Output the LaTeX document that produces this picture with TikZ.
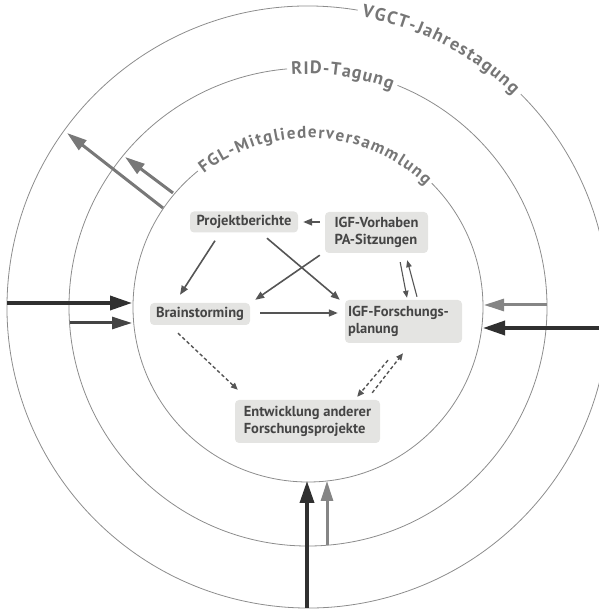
\documentclass[tikz,border=0pt]{standalone}
\usepackage{fontspec}
\setsansfont{PT Sans}
\newfontfamily\boxfontfam{PT Sans}
\usetikzlibrary{arrows.meta,decorations.text}
\definecolor{ringline}{HTML}{8C8C8C}
\definecolor{labeltext}{HTML}{767676}
\definecolor{boxfill}{HTML}{E4E4E2}
\definecolor{boxtext}{HTML}{454545}
\definecolor{flowcol}{HTML}{555555}
\definecolor{darkarrow}{HTML}{303030}
\definecolor{midarrow}{HTML}{444444}
\definecolor{grayarrow}{HTML}{858585}
\newcommand\ringfont{\sffamily\bfseries\fontsize{18}{21}\selectfont}
\newcommand\ringfontsmall{\sffamily\bfseries\fontsize{17}{20}\selectfont}
\begin{document}
\begin{tikzpicture}[x=1pt,y=1pt,
  ring/.style={draw=ringline, line width=0.8pt},
  box/.style={fill=boxfill, rounded corners=4pt, text=boxtext, font=\boxfontfam\bfseries\fontsize{14.5}{16.5}\selectfont, align=left, inner sep=3pt},
  flow/.style={draw=flowcol, line width=1.6pt, -{Triangle[length=9pt,width=7pt]}},
  thinflow/.style={draw=flowcol, line width=1.1pt, -{Triangle[length=7pt,width=5.5pt]}},
  dashflow/.style={draw=flowcol, line width=1.4pt, dash pattern=on 3.5pt off 2.5pt, -{Triangle[length=7pt,width=6pt]}},
  bigarrow/.style={line width=3.5pt, -{Triangle[length=22pt,width=14pt]}},
  medarrow/.style={line width=3pt, -{Triangle[length=20pt,width=12pt]}},
  ringlabel/.style={decorate, decoration={text along path, text align=fit to path, text color=labeltext, raise=-6pt}}
]
\useasboundingbox (0,0) rectangle (599,611);
\clip (0,0) rectangle (599,611);
\coordinate (C) at (308,304);

% rings with gaps for the labels
\draw[ring] ([shift={(80.5:301pt)}]C) arc[start angle=80.5, end angle=405, radius=301pt];
\draw[ring] ([shift={(95:239pt)}]C) arc[start angle=95, end angle=428, radius=239pt];
\draw[ring] ([shift={(129:175pt)}]C) arc[start angle=129, end angle=405, radius=175pt];

% ring labels
\path[ringlabel, decoration={text={|\ringfont|VGCT-Jahrestagung}}]
  ([shift={(79.5:301pt)}]C) arc[start angle=79.5, end angle=46, radius=301pt];
\path[ringlabel, decoration={text={|\ringfont|RID-Tagung}}]
  ([shift={(94:239pt)}]C) arc[start angle=94, end angle=69, radius=239pt];
\path[ringlabel, decoration={text={|\ringfontsmall|FGL-Mitgliederversammlung}}]
  ([shift={(128:175pt)}]C) arc[start angle=128, end angle=46, radius=175pt];

% boxes
\node[box, minimum width=108pt, minimum height=21pt] (pb) at (244,389) {Projektberichte};
\node[box, minimum width=103pt, minimum height=41pt] (igf) at (376.5,378.5) {IGF-Vorhaben\\PA-Sitzungen};
\node[box, minimum width=100pt, minimum height=22pt] (bs) at (200,297) {Brainstorming};
\node[box, text width=111pt, minimum height=43pt] (fp) at (403.5,289.5) {IGF-Forschungs-\\planung};
\node[box, minimum width=145pt, minimum height=43pt] (ent) at (307.5,189.5) {Entwicklung anderer\\Forschungsprojekte};

% inner connectors
\draw[flow, shorten <=5pt, shorten >=5pt] (igf.west |- pb.east) -- (pb.east);
\draw[flow] ([shift={(-29pt,-8pt)}]pb.south) -- ([shift={(-20pt,8pt)}]bs.north);
\draw[flow] ([shift={(23pt,-5.5pt)}]pb.south) -- ([shift={(-5pt,0pt)}]fp.north west);
\draw[flow] ([shift={(-5pt,-2pt)}]igf.south west) -- ([shift={(5pt,3pt)}]bs.north east);
\draw[flow, shorten <=10pt, shorten >=7pt] ([yshift=1pt]bs.east) -- ([yshift=1pt]bs.east -| fp.west);
\draw[thinflow] ([shift={(-28pt,-9pt)}]igf.south east) -- ([shift={(3.5pt,2pt)}]fp.north);
\draw[thinflow] ([shift={(13.5pt,3pt)}]fp.north) -- ([shift={(-21pt,-7pt)}]igf.south east);
\draw[dashflow] ([shift={(-22pt,-8pt)}]bs.south) -- ([shift={(3pt,10pt)}]ent.north west);
\draw[dashflow] ([shift={(-15.5pt,-17pt)}]fp.south) -- ([shift={(-23pt,3pt)}]ent.north east);
\draw[dashflow] ([shift={(-8pt,7pt)}]ent.north east) -- ([shift={(-0.5pt,-10pt)}]fp.south);

% outer arrows
\coordinate (L1a) at (7,308);    \coordinate (L1b) at (132,308);
\coordinate (L2a) at (69.5,288); \coordinate (L2b) at (132,288);
\coordinate (R1a) at (547,306);  \coordinate (R1b) at (484,306);
\coordinate (R2a) at (599,283);  \coordinate (R2b) at (483,283);
\coordinate (B1a) at (307,3);    \coordinate (B1b) at (307,130);
\coordinate (B2a) at (327,66);   \coordinate (B2b) at (327,130);
\coordinate (T1a) at (163,403);  \coordinate (T1b) at (67,478);
\coordinate (T2a) at (173,418);  \coordinate (T2b) at (125,454);

\draw[bigarrow, draw=darkarrow] (L1a) -- (L1b);
\draw[medarrow, draw=midarrow] (L2a) -- (L2b);
\draw[medarrow, draw=grayarrow] (R1a) -- (R1b);
\draw[bigarrow, draw=darkarrow] (R2a) -- (R2b);
\draw[bigarrow, draw=darkarrow] (B1a) -- (B1b);
\draw[medarrow, draw=grayarrow] (B2a) -- (B2b);
\draw[medarrow, draw=grayarrow!90!black] (T1a) -- (T1b);
\draw[medarrow, draw=grayarrow!90!black] (T2a) -- (T2b);
\end{tikzpicture}
\end{document}
